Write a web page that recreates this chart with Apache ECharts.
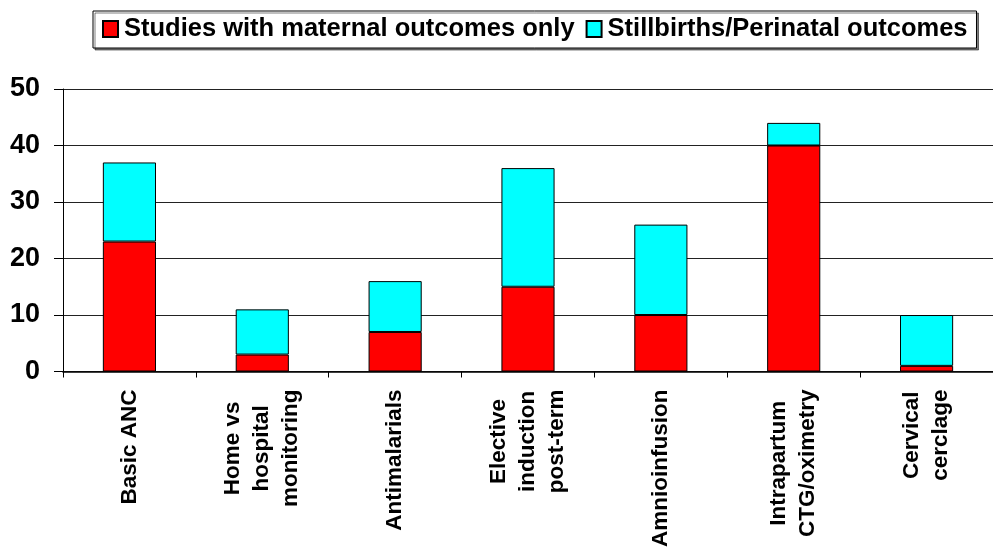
<!DOCTYPE html>
<html><head><meta charset="utf-8">
<script src="https://cdn.jsdelivr.net/npm/echarts@6/dist/echarts.min.js"></script>
<style>html,body{margin:0;padding:0;background:#fff}#c{width:993px;height:550px}</style>
</head><body><div id="c"></div>
<script>
const categories = ['Basic ANC', 'Home vs\nhospital\nmonitoring', 'Antimalarials', 'Elective\ninduction\npost-term', 'Amnioinfusion', 'Intrapartum\nCTG/oximetry', 'Cervical\ncerclage'];
const maternalOnly = [23, 3, 7, 15, 10, 40, 1];
const perinatal = [14, 8, 9, 21, 16, 4, 9];
const seriesNames = ['Studies with maternal outcomes only', 'Stillbirths/Perinatal outcomes'];
const yTicks = {min: 0, max: 50, interval: 10};

const FONT = '"Liberation Sans", Arial, sans-serif';
const labelSize = 22.5;

const chart = echarts.init(document.getElementById('c'), null, {renderer: 'canvas'});
chart.setOption({
  animation: false,
  legend: {
    left: 93, top: 11,
    data: seriesNames,
    itemWidth: 15, itemHeight: 16, itemGap: 11,
    padding: [5, 9, 6, 9],
    borderColor: '#000', borderWidth: 1,
    backgroundColor: '#fff',
    shadowColor: 'rgba(0,0,0,0.5)', shadowOffsetX: 2, shadowOffsetY: 2,
    textStyle: {fontFamily: FONT, fontWeight: 'bold', fontSize: 25.5, color: '#000', padding: [0, 0, 0, 1]},
    icon: 'rect'
  },
  grid: {left: 63, right: -9, top: 89, bottom: 177, containLabel: false},
  xAxis: {
    type: 'category',
    data: categories,
    axisLine: {lineStyle: {color: '#000', width: 1.5}},
    axisTick: {show: true, length: 6, lineStyle: {color: '#000'}},
    axisLabel: {
      interval: 0, rotate: 90, margin: 18,
      formatter: function (v) { return v.split('\n').map(s => '{c|' + s + '}').join('\n'); },
      rich: {c: {align: 'center', fontWeight: 'bold', fontSize: labelSize, fontFamily: FONT, color: '#000', lineHeight: 29}}
    }
  },
  yAxis: {
    type: 'value', min: yTicks.min, max: yTicks.max, interval: yTicks.interval,
    axisLine: {show: true, lineStyle: {color: '#000', width: 1}},
    axisTick: {show: true, length: 9, lineStyle: {color: '#000'}},
    splitLine: {lineStyle: {color: '#222', width: 1}},
    axisLabel: {fontFamily: FONT, fontWeight: 'bold', fontSize: 27, color: '#000', margin: 23}
  },
  series: [
    {name: seriesNames[0], type: 'bar', stack: 's', data: maternalOnly, barWidth: '40%',
     itemStyle: {color: '#FF0000', borderColor: '#000', borderWidth: 1}},
    {name: seriesNames[1], type: 'bar', stack: 's', data: perinatal, barWidth: '40%',
     itemStyle: {color: '#00FFFF', borderColor: '#000', borderWidth: 1}}
  ]
});
</script></body></html>
